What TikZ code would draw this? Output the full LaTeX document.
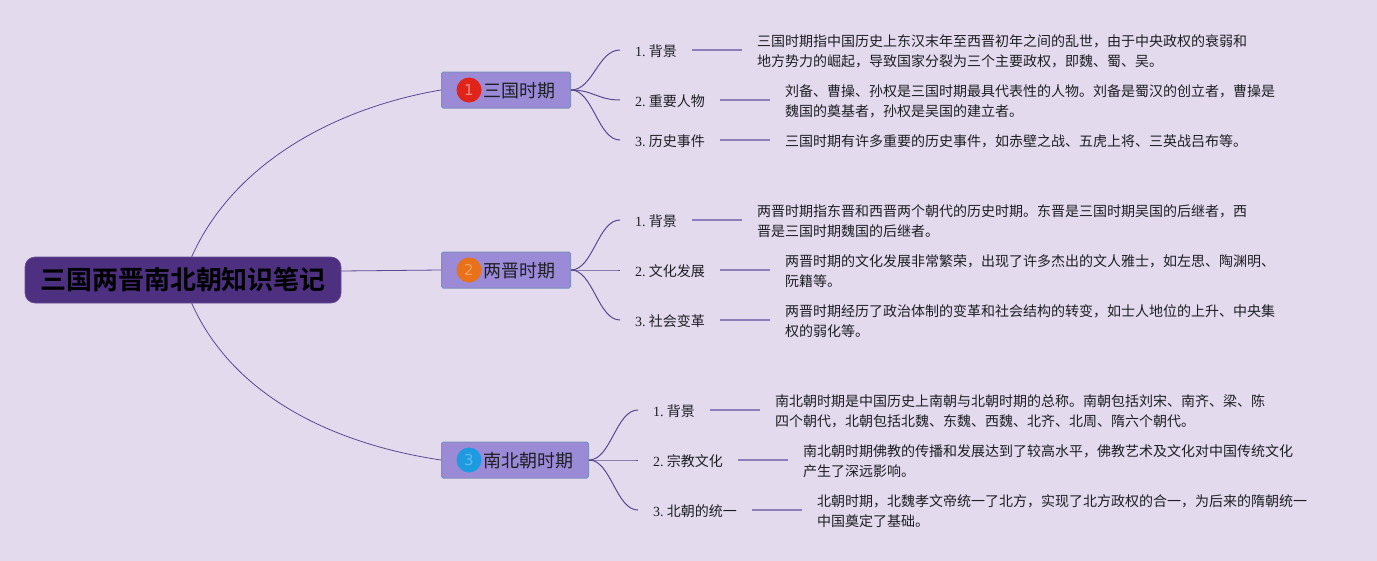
\documentclass[tikz,border=0pt]{standalone}
\usepackage{fontspec}
\setmainfont{Liberation Serif}
\newfontfamily\cjk{Noto Sans CJK SC}
\newfontfamily\cjkb{Noto Sans CJK SC Bold}
\newfontfamily\dejav{DejaVu Sans}
\usetikzlibrary{calc}
\definecolor{bgc}{HTML}{E3DAEE}
\definecolor{rootc}{HTML}{4D3080}
\definecolor{boxc}{HTML}{9B8AD6}
\definecolor{boxe}{HTML}{7E90BC}
\definecolor{linec}{HTML}{5A4A90}
\definecolor{leafc}{HTML}{8D7DB8}
\definecolor{txt}{HTML}{1E1E24}
\definecolor{ired}{HTML}{E0241A}
\definecolor{iredt}{HTML}{F08A80}
\definecolor{iorg}{HTML}{E8711A}
\definecolor{iorgt}{HTML}{F0A060}
\definecolor{iblu}{HTML}{1E9BE0}
\definecolor{iblut}{HTML}{60B8EC}
\tikzset{
 x=1pt,y=-1pt,
 rootbox/.style={draw=rootc!85!white,line width=.6pt,fill=rootc,rounded corners=10pt,minimum width=316pt,minimum height=46pt,inner sep=0pt,font=\fontsize{26}{30}\selectfont\cjkb,text=black},
 branchbox/.style={draw=boxe,line width=1pt,fill=boxc,rounded corners=1.5pt,minimum height=36pt,inner sep=0pt,anchor=west},
 branchtext/.style={anchor=west,inner sep=0pt,font=\fontsize{18}{22}\selectfont\cjk,text=txt},
 icon/.style={circle,minimum size=25pt,inner sep=0pt,font=\fontsize{15}{18}\selectfont\dejav},
 leaf/.style={anchor=west,inner xsep=15pt,inner ysep=0pt,minimum height=20pt,font=\fontsize{14}{20}\selectfont\cjk,text=txt},
 desc/.style={anchor=west,inner xsep=15pt,inner ysep=0pt,align=left,font=\fontsize{14}{20}\selectfont\cjk,text=txt},
 link/.style={draw=linec,line width=.8pt},
 stem/.style={draw=linec,line width=1pt},
 rule/.style={draw=leafc,line width=1.5pt},
}
\newcommand{\num}[2]{{\rmfamily #1}\hspace{3.2pt}#2}
\begin{document}
\begin{tikzpicture}
\useasboundingbox (0,0) rectangle (1377,560);
\fill[bgc] (-5,-5) rectangle (1382,565);

\node[rootbox] (root) at (183,280) {三国两晋南北朝知识笔记};

\node[branchbox,minimum width=129pt] (b1) at (441,90) {};
\node[branchbox,minimum width=129pt] (b2) at (441,270) {};
\node[branchbox,minimum width=147pt] (b3) at (441,460) {};
\node[icon,fill=ired,text=iredt] (i1) at (469,90) {1};
\node[icon,fill=iorg,text=iorgt] (i2) at (469,270) {2};
\node[icon,fill=iblu,text=iblut] (i3) at (469,460) {3};
\node[branchtext] (t1) at (483.5,91) {三国时期};
\node[branchtext] (t2) at (483.5,271) {两晋时期};
\node[branchtext] (t3) at (483.5,461) {南北朝时期};

% leaves (text sits 1 unit below its connector line)
\node[leaf] (l11) at (620,51) {\num{1.}{背景}};
\node[leaf] (l12) at (620,101) {\num{2.}{重要人物}};
\node[leaf] (l13) at (620,141) {\num{3.}{历史事件}};
\node[leaf] (l21) at (620,221) {\num{1.}{背景}};
\node[leaf] (l22) at (620,271) {\num{2.}{文化发展}};
\node[leaf] (l23) at (620,321) {\num{3.}{社会变革}};
\node[leaf] (l31) at (638,411) {\num{1.}{背景}};
\node[leaf] (l32) at (638,461) {\num{2.}{宗教文化}};
\node[leaf] (l33) at (638,511) {\num{3.}{北朝的统一}};

% descriptions
\node[desc] (d11) at (742,51.5) {三国时期指中国历史上东汉末年至西晋初年之间的乱世，由于中央政权的衰弱和\\地方势力的崛起，导致国家分裂为三个主要政权，即魏、蜀、吴。};
\node[desc] (d12) at (770,101.5) {刘备、曹操、孙权是三国时期最具代表性的人物。刘备是蜀汉的创立者，曹操是\\魏国的奠基者，孙权是吴国的建立者。};
\node[desc] (d13) at (770,141.5) {三国时期有许多重要的历史事件，如赤壁之战、五虎上将、三英战吕布等。};
\node[desc] (d21) at (742,221.5) {两晋时期指东晋和西晋两个朝代的历史时期。东晋是三国时期吴国的后继者，西\\晋是三国时期魏国的后继者。};
\node[desc] (d22) at (770,271.5) {两晋时期的文化发展非常繁荣，出现了许多杰出的文人雅士，如左思、陶渊明、\\阮籍等。};
\node[desc] (d23) at (770,321.5) {两晋时期经历了政治体制的变革和社会结构的转变，如士人地位的上升、中央集\\权的弱化等。};
\node[desc] (d31) at (760,411.5) {南北朝时期是中国历史上南朝与北朝时期的总称。南朝包括刘宋、南齐、梁、陈\\四个朝代，北朝包括北魏、东魏、西魏、北齐、北周、隋六个朝代。};
\node[desc] (d32) at (788,461.5) {南北朝时期佛教的传播和发展达到了较高水平，佛教艺术及文化对中国传统文化\\产生了深远影响。};
\node[desc] (d33) at (802,511.5) {北朝时期，北魏孝文帝统一了北方，实现了北方政权的合一，为后来的隋朝统一\\中国奠定了基础。};

% root connectors
\coordinate (rt) at ($(root.north west)+(167,0)$);
\coordinate (rb) at ($(root.south west)+(167,0)$);
\draw[link] (rt) .. controls (235,160) and (340,107) .. (b1.west);
\draw[link] (root.east |- 0,271) -- (b2.west);
\draw[link] (rb) .. controls (235,400) and (340,445) .. (b3.west);

% branch to leaf
\foreach \b/\l in {b1/l11,b1/l12,b1/l13,b2/l21,b2/l22,b2/l23,b3/l31,b3/l32,b3/l33}{
  \coordinate (e) at ([yshift=1pt]\l.west);
  \draw[stem] (\b.east) .. controls ($(\b.east)!.45!(e |- \b.east)$) and ($(e)!.45!(\b.east |- e)$) .. (e);
}
% leaf to description
\foreach \l/\d in {l11/d11,l12/d12,l13/d13,l21/d21,l22/d22,l23/d23,l31/d31,l32/d32,l33/d33}{
  \coordinate (e) at ([yshift=1pt]\l.east);
  \draw[rule] (e) -- (\d.west |- e);
}
\end{tikzpicture}
\end{document}
